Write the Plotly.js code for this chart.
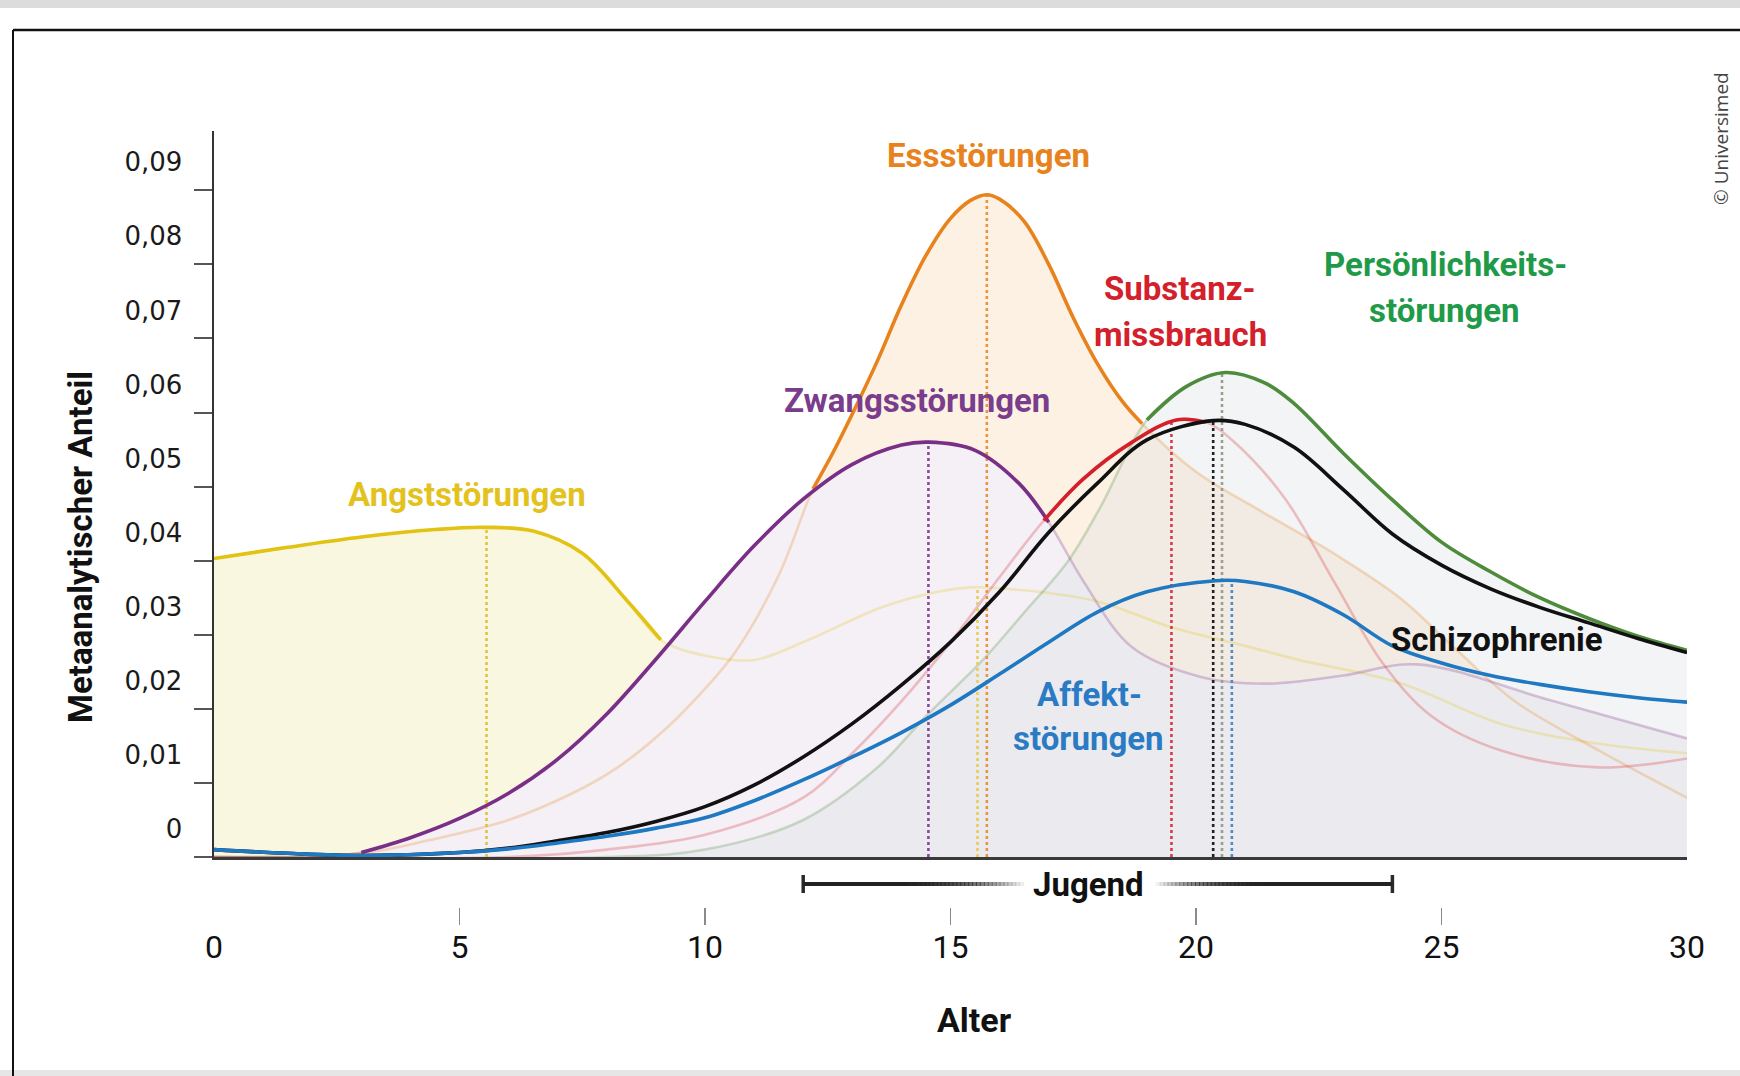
<!DOCTYPE html>
<html>
<head>
<meta charset="utf-8">
<script src="https://cdn.plot.ly/plotly-3.0.1.min.js"></script>
<style>
  html, body { margin: 0; padding: 0; background: #ffffff; }
  #chart { width: 1740px; height: 1076px; }
</style>
</head>
<body>
<div id="chart"></div>
<script>
// ---------------- DATA ----------------
const ageTicks = [0, 5, 10, 15, 20, 25, 30];
const shareTicks = [0, 0.01, 0.02, 0.03, 0.04, 0.05, 0.06, 0.07, 0.08, 0.09];
const shareTickText = ["0", "0,01", "0,02", "0,03", "0,04", "0,05", "0,06", "0,07", "0,08", "0,09"];

const angstX = [0, 1.5, 3, 4.5, 5.5, 6.5, 7.5, 8.4, 9.1, 10, 11, 12, 13.6, 14.6, 15.4, 16.5, 18, 19.5, 21, 22.1, 24.15, 26.2, 28, 30];
const angstY = [0.0403, 0.0418, 0.0432, 0.0442, 0.0445, 0.044, 0.041, 0.0347, 0.0293, 0.0272, 0.0266, 0.029, 0.0337, 0.0356, 0.0364, 0.036, 0.0345, 0.031, 0.0285, 0.0266, 0.0235, 0.018, 0.0155, 0.014];

const zwangX = [0, 1, 2, 3, 4, 5, 6, 7, 8, 9, 10, 11, 12, 13, 14, 14.55, 15.5, 16.4, 17, 17.7, 18.7, 20.1, 21.45, 23, 24.5, 27.2, 30];
const zwangY = [0, 0, 0, 0.0006, 0.0026, 0.0052, 0.0086, 0.0132, 0.0193, 0.0267, 0.0345, 0.042, 0.0483, 0.053, 0.0556, 0.056, 0.0549, 0.0504, 0.0452, 0.0373, 0.0283, 0.0243, 0.0234, 0.0245, 0.026, 0.0212, 0.016];

const essX = [0, 3, 4.4, 6, 7.3, 8.2, 9.1, 9.9, 10.6, 11.5, 12.2, 12.6, 13, 13.5, 14, 14.5, 15, 15.4, 15.74, 16, 16.5, 17, 17.5, 18, 18.5, 18.9, 20, 21.4, 22.8, 24.15, 25.3, 26.5, 28.2, 30];
const essY = [0, 0.0005, 0.0023, 0.005, 0.0086, 0.012, 0.0167, 0.022, 0.0275, 0.038, 0.0497, 0.0545, 0.0598, 0.0668, 0.0745, 0.0812, 0.0862, 0.0886, 0.0894, 0.0888, 0.0858, 0.08, 0.0728, 0.0665, 0.0615, 0.0585, 0.052, 0.0464, 0.041, 0.035, 0.028, 0.021, 0.0144, 0.008];

const substX = [0, 6, 8, 10, 12, 13, 14, 15, 16, 16.9, 17.7, 18.7, 19.6, 20.2, 20.75, 21.8, 22.8, 23.8, 24.8, 26.2, 28.2, 30];
const substY = [0, 0, 0.001, 0.003, 0.008, 0.014, 0.021, 0.029, 0.0378, 0.0454, 0.051, 0.056, 0.059, 0.0587, 0.0562, 0.0485, 0.0373, 0.0262, 0.019, 0.0144, 0.0121, 0.0133];

const persX = [0, 8, 10, 12, 13.5, 14.5, 15.66, 16.5, 17.4, 18.05, 19, 19.8, 20.6, 21.4, 22, 23, 24, 25, 26, 27, 28, 29, 30];
const persY = [0, 0, 0.001, 0.005, 0.012, 0.019, 0.0266, 0.033, 0.04, 0.0472, 0.059, 0.0635, 0.0654, 0.064, 0.0612, 0.0545, 0.0482, 0.0425, 0.0385, 0.035, 0.0322, 0.0298, 0.0279];

const schizoX = [0, 1.5, 3, 5, 6, 7, 8, 9, 10, 11, 12, 13, 14, 15, 16, 17, 18, 19, 20.35, 21, 22, 23, 24, 25, 26, 27, 28, 29, 30];
const schizoY = [0.001, 0.0005, 0.0002, 0.0006, 0.0012, 0.0022, 0.0033, 0.0048, 0.0068, 0.0097, 0.0135, 0.018, 0.0232, 0.029, 0.0358, 0.0438, 0.0505, 0.0563, 0.0589, 0.0584, 0.0553, 0.0496, 0.0436, 0.0394, 0.0362, 0.0337, 0.0316, 0.0295, 0.0276];

const affektX = [0, 1.5, 3, 5, 6, 7, 8, 9, 10, 11, 12, 13, 14, 15, 16, 17, 18, 19, 20.4, 21, 22, 23, 24, 25, 26, 27, 28, 29, 30];
const affektY = [0.001, 0.0005, 0.0002, 0.0006, 0.0011, 0.0019, 0.0028, 0.0039, 0.0053, 0.0076, 0.0104, 0.0135, 0.0168, 0.0205, 0.0247, 0.029, 0.0331, 0.0358, 0.0373, 0.0372, 0.0358, 0.0327, 0.0285, 0.0262, 0.0245, 0.0233, 0.0223, 0.0215, 0.0209];

// peak / median markers (dotted verticals)
const peakAge   = [5.55, 15.55, 14.55, 15.74, 19.5, 20.35, 20.53, 20.73];
const peakLevel = [0.0445, 0.0364, 0.056, 0.0894, 0.059, 0.0589, 0.0654, 0.0373];

const jugendRange = [12, 24];

// ---------------- STYLE ----------------
const L = 214, R = 1687, T = 131, B = 1000, AXB = 857;
const px = v => (v - L) / (R - L);
const py = v => (B - v) / (B - T);

const series = [
  {name: "Angststörungen", x: angstX, y: angstY, color: "#e2c212", fill: "#faf7e0", solid: [0, 9.1]},
  {name: "Essstörungen", x: essX, y: essY, color: "#e8821c", fill: "#fdf1e3", solid: [12.2, 18.9]},
  {name: "Zwangsstörungen", x: zwangX, y: zwangY, color: "#7a2f86", fill: "#f4f0f6", solid: [3, 17]},
  {name: "Persönlichkeitsstörungen", x: persX, y: persY, color: "#4e8c3c", fill: "rgba(222,226,228,0.38)", solid: [19, 30]},
  {name: "Substanzmissbrauch", x: substX, y: substY, color: "#d3202a", fill: null, solid: [16.9, 20.2]},
  {name: "Schizophrenie", x: schizoX, y: schizoY, color: "#111111", fill: null, solid: [0, 30]},
  {name: "Affektstörungen", x: affektX, y: affektY, color: "#1e78c2", fill: null, solid: [0, 30]}
];
const peakColors = ["#e0c43a", "#e6cf5a", "#8a4a9a", "#e8963e", "#d83a4a", "#222222", "#9aa08e", "#4a8ccc"];

function hexA(hex, a) {
  const n = parseInt(hex.slice(1), 16);
  return `rgba(${(n >> 16) & 255},${(n >> 8) & 255},${n & 255},${a})`;
}

const traces = [];
// fills
series.forEach(s => {
  if (!s.fill) return;
  traces.push({x: s.x, y: s.y, type: "scatter", mode: "lines", fill: "tozeroy",
    fillcolor: s.fill, line: {width: 0, shape: "spline", smoothing: 1}, hoverinfo: "skip", showlegend: false});
});
// faint full curves
series.forEach(s => {
  traces.push({x: s.x, y: s.y, type: "scatter", mode: "lines",
    line: {color: hexA(s.color, 0.26), width: 2.6, shape: "spline", smoothing: 1}, hoverinfo: "skip", showlegend: false});
});
// dotted peak lines
peakAge.forEach((a, i) => {
  traces.push({x: [a, a], y: [0, peakLevel[i]], type: "scatter", mode: "lines",
    line: {color: peakColors[i], width: 2.6, dash: "dot"}, hoverinfo: "skip", showlegend: false});
});
// solid segments
series.forEach(s => {
  const xs = [], ys = [];
  s.x.forEach((v, i) => { if (v >= s.solid[0] && v <= s.solid[1]) { xs.push(v); ys.push(s.y[i]); } });
  traces.push({x: xs, y: ys, type: "scatter", mode: "lines", name: s.name,
    line: {color: s.color, width: 3.6, shape: "spline", smoothing: 1}, showlegend: false});
});
// carrier for lower tick axis
traces.push({x: [ageTicks[0], ageTicks[ageTicks.length - 1]], y: [null, null], xaxis: "x2", yaxis: "y",
  type: "scatter", mode: "lines", hoverinfo: "skip", showlegend: false});

// ---------------- SHAPES ----------------
const shapes = [
  {type: "rect", xref: "paper", yref: "paper", x0: px(0), x1: px(1740), y0: py(0), y1: py(8), fillcolor: "#dcdcdc", line: {width: 0}, layer: "below"},
  {type: "rect", xref: "paper", yref: "paper", x0: px(0), x1: px(1740), y0: py(1070), y1: py(1076), fillcolor: "#e6e6e6", line: {width: 0}, layer: "below"},
  {type: "line", xref: "paper", yref: "paper", x0: px(13), x1: px(1745), y0: py(30), y1: py(30), line: {color: "#111", width: 2.5}},
  {type: "line", xref: "paper", yref: "paper", x0: px(13), x1: px(13), y0: py(30), y1: py(1076), line: {color: "#111", width: 2}}
];
// Jugend bar
const barY = py(884);
[jugendRange[0], jugendRange[1]].forEach(xv => {
  shapes.push({type: "line", xref: "x", yref: "paper", x0: xv, x1: xv, y0: py(875), y1: py(893), line: {color: "#2a2a2a", width: 3.5}});
});
const fadeL = [13.9, 16.5], fadeR = [19.1, 21.4];
const step = 0.08;
for (let xv = jugendRange[0]; xv < fadeL[1]; xv += step) {
  const t = xv < fadeL[0] ? 0 : (xv - fadeL[0]) / (fadeL[1] - fadeL[0]);
  const op = Math.max(0, 1 - t * t);
  shapes.push({type: "line", xref: "x", yref: "paper", x0: xv, x1: Math.min(xv + step + 0.02, fadeL[1]), y0: barY, y1: barY,
    line: {color: `rgba(35,35,35,${op.toFixed(3)})`, width: 4}});
}
for (let xv = fadeR[0]; xv < jugendRange[1]; xv += step) {
  const t = xv > fadeR[1] ? 0 : (fadeR[1] - xv) / (fadeR[1] - fadeR[0]);
  const op = Math.max(0, 1 - t * t);
  shapes.push({type: "line", xref: "x", yref: "paper", x0: xv, x1: Math.min(xv + step + 0.02, jugendRange[1]), y0: barY, y1: barY,
    line: {color: `rgba(35,35,35,${op.toFixed(3)})`, width: 4}});
}

// ---------------- ANNOTATIONS ----------------
const LBL = "Roboto, 'Liberation Sans', sans-serif";
function lab(text, cx, cy, color, size, family, weight) {
  return {text: text, xref: "paper", yref: "paper", x: px(cx), y: py(cy), xanchor: "center", yanchor: "middle",
    showarrow: false, font: {family: family || LBL, size: size || 33, color: color, weight: weight || 700}};
}
const annotations = [
  lab("Essstörungen", 988, 155, "#e8821c"),
  lab("Zwangsstörungen", 917, 400, "#7a3d8c"),
  lab("Angststörungen", 467, 494, "#e3c21d"),
  lab("Substanz-", 1179, 289, "#d3202a"),
  lab("missbrauch", 1180, 334, "#d3202a"),
  lab("Persönlichkeits-", 1445, 264, "#1f9a48"),
  lab("störungen", 1444, 310, "#1f9a48"),
  lab("Affekt-", 1089, 694, "#2b7bc4"),
  lab("störungen", 1088, 738, "#2b7bc4"),
  lab("Schizophrenie", 1497, 639, "#111111"),
  lab("Jugend", 1088, 884, "#111111", 33),
  lab("Alter", 974, 1020, "#111111", 34),
  Object.assign(lab("Metaanalytischer Anteil", 80, 547, "#111111", 33), {textangle: -90}),
  Object.assign(lab("© Universimed", 1721, 139, "#444444", 19, "'Open Sans', 'Liberation Sans', sans-serif", 400), {textangle: -90})
];

const layout = {
  width: 1740, height: 1076,
  margin: {l: L, r: 1740 - R, t: T, b: 1076 - B, pad: 0},
  paper_bgcolor: "#ffffff", plot_bgcolor: "rgba(0,0,0,0)",
  showlegend: false,
  xaxis: {range: [0, 30], anchor: "y", showline: true, linecolor: "#3a3a3a", linewidth: 3,
    ticks: "", showticklabels: false, showgrid: false, zeroline: false, fixedrange: true},
  xaxis2: {range: [0, 30], overlaying: "x", anchor: "free", position: py(925), side: "bottom",
    tickmode: "array", tickvals: ageTicks, ticktext: ageTicks.map(String),
    ticks: "inside", ticklen: 17, tickwidth: 1.6, tickcolor: "#8a8a8a",
    showline: false, showgrid: false, zeroline: false,
    tickfont: {family: "Roboto, sans-serif", size: 32, color: "#111"}, ticklabelstandoff: 0},
  yaxis: {range: [0, 0.098], domain: [py(AXB), 1], showline: true, linecolor: "#333", linewidth: 2.5,
    tickmode: "array", tickvals: shareTicks, ticktext: shareTickText,
    ticks: "outside", ticklen: 18, tickwidth: 2, tickcolor: "#555",
    showgrid: false, zeroline: false, ticklabelshift: -28, ticklabelstandoff: 6,
    tickfont: {family: "'DejaVu Sans', sans-serif", size: 26, color: "#1a1a1a"}},
  shapes: shapes,
  annotations: annotations
};

Plotly.newPlot("chart", traces, layout, {staticPlot: true, displayModeBar: false});
</script>
</body>
</html>
